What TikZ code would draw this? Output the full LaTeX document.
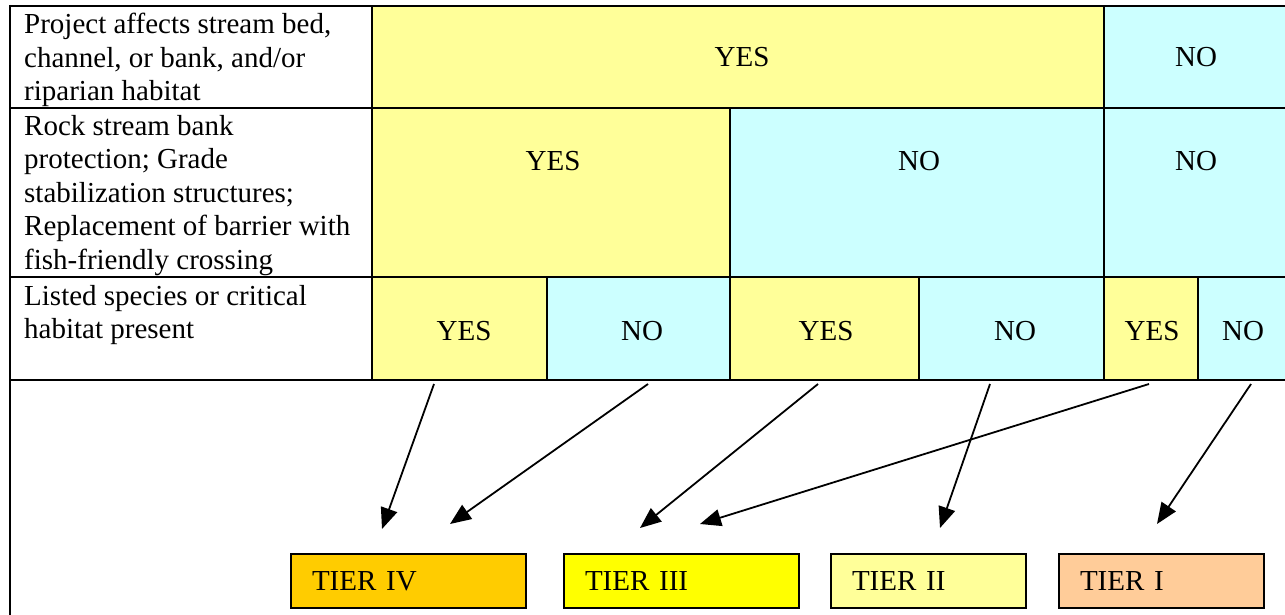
\documentclass[tikz,border=0pt]{standalone}
\usepackage{fontspec}
\setmainfont{Liberation Serif}
\newfontfamily\tnr{Liberation Serif}
\usetikzlibrary{arrows.meta}
\definecolor{lyel}{HTML}{FFFF99}
\definecolor{lcyan}{HTML}{CCFFFF}
\definecolor{tfour}{HTML}{FFCC00}
\definecolor{tthree}{HTML}{FFFF00}
\definecolor{ttwo}{HTML}{FFFF99}
\definecolor{tone}{HTML}{FFCC99}
\tikzset{
  grid/.style={line width=2.2pt, black},
  lbl/.style={anchor=north west, inner sep=0pt, align=left},
  val/.style={anchor=base, inner sep=0pt},
  tierbox/.style={draw=black, line width=2pt, anchor=north west, minimum height=54pt,
    inner xsep=21pt, inner ysep=0pt, text height=19pt, text depth=0pt, align=left},
  link/.style={line width=1.8pt, -{Triangle[length=21pt,width=17pt]}}
}
\begin{document}
\begin{tikzpicture}[x=1pt,y=-1pt,font=\tnr\fontsize{29}{33.5}\selectfont]
\useasboundingbox (0,0) rectangle (1285,615);
% fills
\fill[lyel]  (372,6) rectangle (1104,108);
\fill[lcyan] (1104,6) rectangle (1285,108);
\fill[lyel]  (372,108) rectangle (730,277);
\fill[lcyan] (730,108) rectangle (1285,277);
\fill[lyel]  (372,277) rectangle (547,380);
\fill[lcyan] (547,277) rectangle (730,380);
\fill[lyel]  (730,277) rectangle (919,380);
\fill[lcyan] (919,277) rectangle (1104,380);
\fill[lyel]  (1104,277) rectangle (1198,380);
\fill[lcyan] (1198,277) rectangle (1285,380);
% grid lines
\draw[grid] (9,6) -- (1285,6);
\draw[grid] (9,108) -- (1285,108);
\draw[grid] (9,277) -- (1285,277);
\draw[grid] (9,380) -- (1285,380);
\draw[grid] (10,5) -- (10,615);
\draw[grid] (372,6) -- (372,380);
\draw[grid] (1104,6) -- (1104,380);
\draw[grid] (730,108) -- (730,380);
\draw[grid] (547,277) -- (547,380);
\draw[grid] (919,277) -- (919,380);
\draw[grid] (1198,277) -- (1198,380);
% labels
\node[lbl] (l1) at (24,10) {\strut Project affects stream bed,\\channel, or bank, and/or\\riparian habitat};
\node[lbl] (l2) at (24,111.5) {\strut Rock stream bank\\protection; Grade\\stabilization structures;\\Replacement of barrier with\\fish-friendly crossing};
\node[lbl] (l3) at (24,281.5) {\strut Listed species or critical\\habitat present};
% values
\node[val] (r1y) at (742,67) {YES};
\node[val] (r1n) at (1196,67) {NO};
\node[val] (r2y) at (553,170) {YES};
\node[val] (r2n) at (919,170) {NO};
\node[val] (r2nb) at (1196,170) {NO};
\node[val] (r3a) at (464,340) {YES};
\node[val] (r3b) at (642,340) {NO};
\node[val] (r3c) at (826,340) {YES};
\node[val] (r3d) at (1015,340) {NO};
\node[val] (r3e) at (1152,340) {YES};
\node[val] (r3f) at (1243,340) {NO};
% tiers
\node[tierbox, fill=tfour, minimum width=235pt, text width=193pt] (t4) at (290,553) {TIER IV};
\node[tierbox, fill=tthree, minimum width=235pt, text width=193pt] (t3) at (563,553) {TIER III};
\node[tierbox, fill=ttwo, minimum width=195pt, text width=153pt] (t2) at (830,553) {TIER II};
\node[tierbox, fill=tone, minimum width=205pt, text width=163pt] (t1) at (1058,553) {TIER I};
% arrow endpoints
\coordinate (s1) at (434,384); \coordinate (e1) at (382,529);
\coordinate (s2) at (648,384); \coordinate (e2) at (450,524);
\coordinate (s3) at (818,384); \coordinate (e3) at (640,528);
\coordinate (s4) at (1149,384); \coordinate (e4) at (700,524);
\coordinate (s5) at (990,384); \coordinate (e5) at (940,528);
\coordinate (s6) at (1251,384); \coordinate (e6) at (1157,524);
\draw[link] (s1) -- (e1);
\draw[link] (s2) -- (e2);
\draw[link] (s3) -- (e3);
\draw[link] (s4) -- (e4);
\draw[link] (s5) -- (e5);
\draw[link] (s6) -- (e6);
\end{tikzpicture}
\end{document}
